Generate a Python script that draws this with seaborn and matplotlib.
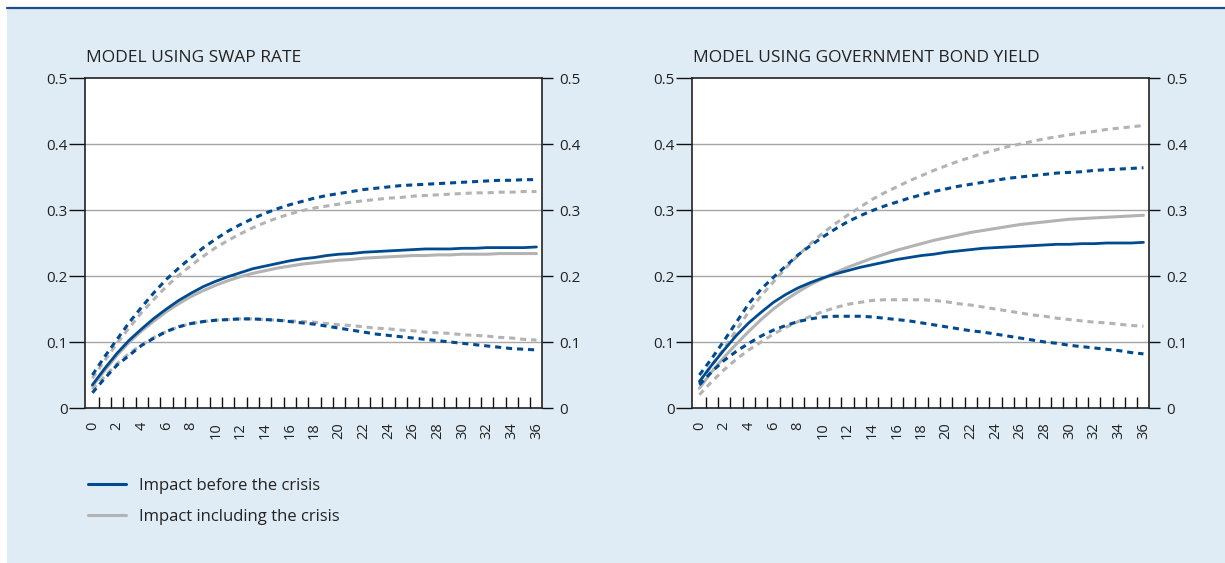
import numpy as np
import pandas as pd
import matplotlib.pyplot as plt
import seaborn as sns
from matplotlib.lines import Line2D
from matplotlib.patches import Rectangle

sns.set_theme(style="white")
plt.rcParams['font.family'] = ['Open Sans', 'DejaVu Sans']

months = list(range(37))
tick_labels = [str(m) for m in range(0, 37, 2)]

# Modell mit Swapsatz
swap_before = [0.035, 0.06, 0.083, 0.103, 0.12, 0.136, 0.15, 0.163, 0.174, 0.184, 0.192, 0.199, 0.205,
               0.211, 0.215, 0.219, 0.223, 0.226, 0.228, 0.231, 0.233, 0.234, 0.236, 0.237, 0.238,
               0.239, 0.240, 0.241, 0.241, 0.241, 0.242, 0.242, 0.243, 0.243, 0.243, 0.243, 0.244]
swap_before_hi = [0.05, 0.078, 0.104, 0.13, 0.153, 0.175, 0.195, 0.212, 0.228, 0.243, 0.256, 0.268, 0.278,
                  0.287, 0.295, 0.302, 0.308, 0.313, 0.318, 0.322, 0.325, 0.328, 0.331, 0.333, 0.335,
                  0.337, 0.338, 0.339, 0.340, 0.341, 0.342, 0.343, 0.344, 0.345, 0.345, 0.346, 0.346]
swap_before_lo = [0.023, 0.045, 0.065, 0.08, 0.095, 0.106, 0.116, 0.123, 0.128, 0.131, 0.133, 0.134, 0.135,
                  0.135, 0.134, 0.133, 0.131, 0.129, 0.127, 0.124, 0.121, 0.118, 0.115, 0.112, 0.11,
                  0.108, 0.106, 0.104, 0.102, 0.1, 0.098, 0.096, 0.094, 0.092, 0.09, 0.089, 0.088]
swap_incl = [0.033, 0.057, 0.08, 0.1, 0.117, 0.132, 0.146, 0.158, 0.169, 0.178, 0.186, 0.193, 0.199,
             0.204, 0.208, 0.212, 0.215, 0.218, 0.22, 0.222, 0.224, 0.225, 0.227, 0.228, 0.229,
             0.23, 0.231, 0.231, 0.232, 0.232, 0.233, 0.233, 0.233, 0.234, 0.234, 0.234, 0.234]
swap_incl_hi = [0.045, 0.072, 0.098, 0.122, 0.145, 0.165, 0.184, 0.201, 0.216, 0.23, 0.243, 0.254, 0.264,
                0.273, 0.281, 0.288, 0.294, 0.299, 0.303, 0.306, 0.309, 0.312, 0.314, 0.316, 0.318,
                0.319, 0.321, 0.322, 0.323, 0.324, 0.325, 0.326, 0.326, 0.327, 0.327, 0.328, 0.328]
swap_incl_lo = [0.028, 0.048, 0.067, 0.083, 0.096, 0.107, 0.116, 0.123, 0.128, 0.131, 0.133, 0.134, 0.135,
                0.135, 0.134, 0.133, 0.132, 0.131, 0.13, 0.128, 0.126, 0.125, 0.123, 0.121, 0.12,
                0.118, 0.117, 0.115, 0.114, 0.113, 0.111, 0.11, 0.109, 0.107, 0.106, 0.104, 0.103]

# Modell mit Staatsanleiherendite
gov_before = [0.04, 0.065, 0.088, 0.11, 0.129, 0.145, 0.16, 0.172, 0.182, 0.19, 0.197, 0.203, 0.208,
              0.213, 0.217, 0.221, 0.225, 0.228, 0.231, 0.233, 0.236, 0.238, 0.24, 0.242, 0.243,
              0.244, 0.245, 0.246, 0.247, 0.248, 0.248, 0.249, 0.249, 0.25, 0.25, 0.25, 0.251]
gov_before_hi = [0.05, 0.075, 0.102, 0.13, 0.158, 0.18, 0.198, 0.215, 0.232, 0.246, 0.259, 0.271, 0.282,
                 0.291, 0.299, 0.306, 0.312, 0.318, 0.323, 0.328, 0.332, 0.336, 0.339, 0.342, 0.345,
                 0.348, 0.35, 0.352, 0.354, 0.356, 0.357, 0.358, 0.36, 0.361, 0.362, 0.363, 0.364]
gov_before_lo = [0.035, 0.055, 0.072, 0.086, 0.098, 0.109, 0.118, 0.125, 0.131, 0.135, 0.138, 0.139, 0.139,
                 0.139, 0.138, 0.136, 0.134, 0.132, 0.129, 0.126, 0.123, 0.12, 0.117, 0.115, 0.112,
                 0.109, 0.106, 0.103, 0.1, 0.098, 0.095, 0.093, 0.091, 0.089, 0.087, 0.084, 0.082]
gov_incl = [0.03, 0.055, 0.077, 0.097, 0.116, 0.134, 0.15, 0.164, 0.176, 0.187, 0.196, 0.205, 0.213,
            0.22, 0.227, 0.233, 0.239, 0.244, 0.249, 0.254, 0.258, 0.262, 0.266, 0.269, 0.272,
            0.275, 0.278, 0.28, 0.282, 0.284, 0.286, 0.287, 0.288, 0.289, 0.29, 0.291, 0.292]
gov_incl_hi = [0.04, 0.065, 0.09, 0.118, 0.146, 0.17, 0.191, 0.212, 0.231, 0.249, 0.265, 0.279, 0.292,
               0.304, 0.316, 0.326, 0.335, 0.344, 0.352, 0.36, 0.367, 0.374, 0.38, 0.386, 0.391,
               0.396, 0.4, 0.404, 0.408, 0.411, 0.414, 0.417, 0.419, 0.422, 0.424, 0.426, 0.428]
gov_incl_lo = [0.02, 0.04, 0.058, 0.074, 0.088, 0.1, 0.112, 0.122, 0.131, 0.139, 0.146, 0.152, 0.157,
               0.16, 0.163, 0.164, 0.164, 0.164, 0.164, 0.163, 0.161, 0.158, 0.156, 0.153, 0.15,
               0.147, 0.144, 0.141, 0.139, 0.136, 0.134, 0.132, 0.13, 0.129, 0.127, 0.125, 0.124]

BLUE = "#004a8f"
GRAY = "#b3b3b3"
BG = "#e0ecf5"
DASH = (0, (2.0, 1.6))

fig = plt.figure(figsize=(12.25, 5.63), dpi=100)
fig.patch.set_facecolor("white")
# hellblauer Kasten + dunkelblaue Linie oben
fig.patches.append(Rectangle((7 / 1225, 0), 1, 1 - 9 / 563, transform=fig.transFigure,
                             facecolor=BG, edgecolor="none", zorder=-5))
fig.lines.append(Line2D([7 / 1225, 1], [1 - 7.5 / 563] * 2, transform=fig.transFigure,
                        color="#1c4f8c", lw=1.6, zorder=-4))

ax1 = fig.add_axes([85 / 1225, 1 - 408 / 563, 457 / 1225, 330 / 563])
ax2 = fig.add_axes([692 / 1225, 1 - 408 / 563, 457 / 1225, 330 / 563])

panels = [
    (ax1, "MODEL USING SWAP RATE",
     swap_before, swap_before_hi, swap_before_lo, swap_incl, swap_incl_hi, swap_incl_lo),
    (ax2, "MODEL USING GOVERNMENT BOND YIELD",
     gov_before, gov_before_hi, gov_before_lo, gov_incl, gov_incl_hi, gov_incl_lo),
]

for ax, title, b, b_hi, b_lo, c, c_hi, c_lo in panels:
    ax.set_zorder(2)
    ax.set_facecolor("white")
    for vals in (c_hi, c_lo):
        sns.lineplot(x=months, y=vals, ax=ax, color=GRAY, lw=2.2, linestyle=DASH)
    sns.lineplot(x=months, y=c, ax=ax, color=GRAY, lw=2.2)
    for vals in (b_hi, b_lo):
        sns.lineplot(x=months, y=vals, ax=ax, color=BLUE, lw=2.2, linestyle=DASH)
    sns.lineplot(x=months, y=b, ax=ax, color=BLUE, lw=2.0)

    ax.set_xlim(-0.6, 36.45)
    ax.set_ylim(0, 0.5)
    ax.set_yticks([0, 0.1, 0.2, 0.3, 0.4, 0.5])
    ax.set_yticklabels(["0", "0.1", "0.2", "0.3", "0.4", "0.5"])
    for y in [0.1, 0.2, 0.3, 0.4]:
        ax.axhline(y, color="#a6a6a6", lw=1.0, zorder=0.5)

    ax.set_xticks(range(0, 37, 2))
    ax.set_xticklabels(tick_labels, rotation=90)
    ax.set_xticks([k + 0.5 for k in range(36)], minor=True)
    ax.tick_params(axis="x", which="major", bottom=False, length=0, pad=10, labelsize=10.5,
                   colors="#222222")
    ax.tick_params(axis="x", which="minor", bottom=True, direction="in", length=8, width=1.0,
                   color="#111111")
    ax.tick_params(axis="y", which="major", direction="out", length=11.5, width=1.0, pad=1,
                   labelsize=11, colors="#222222", left=True, right=True, labelright=True)
    ax.tick_params(axis="y", which="major", color="#111111")
    for sp in ax.spines.values():
        sp.set_visible(True)
        sp.set_color("#222222")
        sp.set_linewidth(1.2)
    ax.set_xlabel("")
    ax.set_ylabel("")
    fig.text(ax.get_position().x0 + 1 / 1225, 1 - 58 / 563, title, fontsize=12.5,
             color="#222222", va="center", ha="left")

# rechte Ticks kürzer
for ax in (ax1, ax2):
    for t in ax.yaxis.get_major_ticks():
        t.tick2line.set_markersize(8)

handles = [Line2D([], [], color=BLUE, lw=2.2), Line2D([], [], color=GRAY, lw=2.2)]
fig.legend(handles, ["Impact before the crisis", "Impact including the crisis"],
           loc="upper left", bbox_to_anchor=(73 / 1225, 1 - 463 / 563), frameon=False,
           fontsize=12, handlelength=2.3, handletextpad=0.75, labelspacing=0.9,
           labelcolor="#222222")

fig.savefig("out.png", dpi=100, facecolor=fig.get_facecolor())
